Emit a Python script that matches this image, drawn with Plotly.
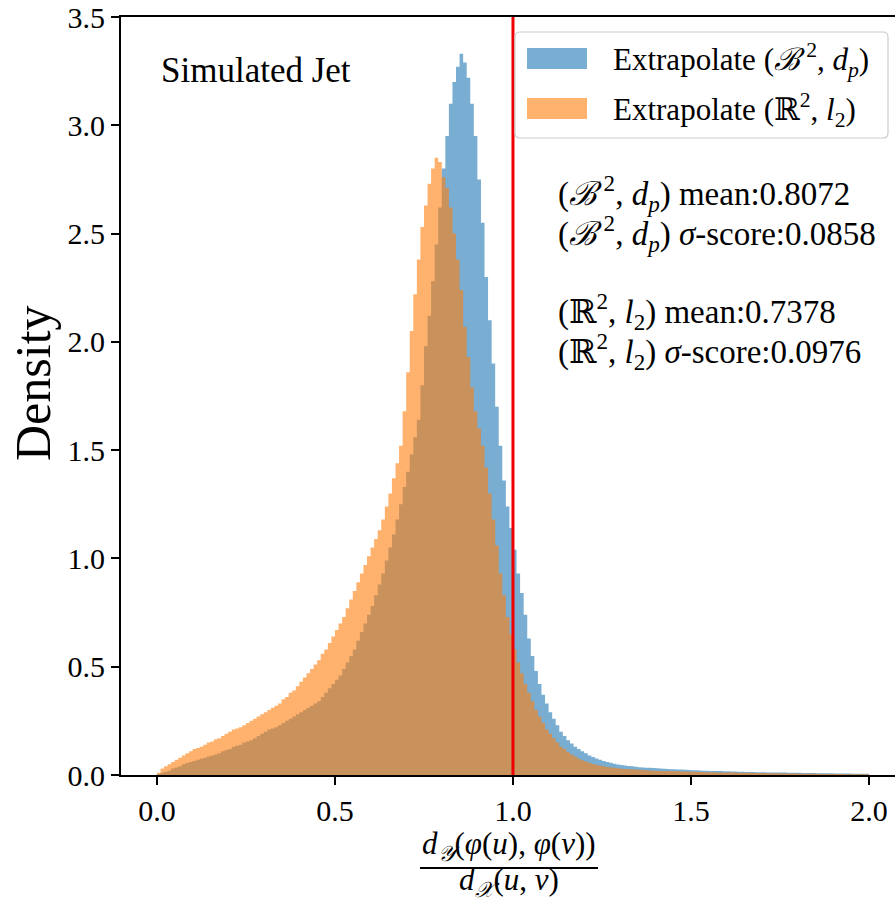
import numpy as np
import plotly.graph_objects as go

# ---------------- data (density per bin, bin width 0.01 on [0, 2]) ----------------
bin_start = 0.0
bin_width = 0.01

density_b2_dp = [
    0.005, 0.01, 0.015, 0.02, 0.03, 0.035, 0.04, 0.05, 0.055, 0.06,
    0.065, 0.07, 0.075, 0.08, 0.085, 0.09, 0.095, 0.10, 0.11, 0.115,
    0.12, 0.13, 0.135, 0.14, 0.15, 0.155, 0.16, 0.17, 0.18, 0.19,
    0.20, 0.21, 0.215, 0.22, 0.23, 0.24, 0.25, 0.26, 0.27, 0.28,
    0.29, 0.30, 0.31, 0.32, 0.33, 0.34, 0.36, 0.38, 0.40, 0.42,
    0.44, 0.46, 0.49, 0.52, 0.55, 0.58, 0.62, 0.66, 0.70, 0.74,
    0.78, 0.83, 0.88, 0.93, 0.99, 1.05, 1.11, 1.18, 1.25, 1.33,
    1.40, 1.48, 1.56, 1.64, 1.80, 1.98, 2.12, 2.28, 2.45, 2.62,
    2.80, 2.95, 3.10, 3.20, 3.27, 3.33, 3.29, 3.22, 3.10, 2.95,
    2.75, 2.55, 2.30, 2.10, 1.90, 1.70, 1.52, 1.36, 1.24, 1.14,
    1.04, 0.93, 0.84, 0.74, 0.63, 0.55, 0.48, 0.42, 0.37, 0.33,
    0.29, 0.26, 0.23, 0.20, 0.18, 0.16, 0.145, 0.13, 0.12, 0.11,
    0.10, 0.09, 0.083, 0.076, 0.070, 0.065, 0.060, 0.056, 0.052, 0.049,
    0.046, 0.044, 0.042, 0.040, 0.038, 0.036, 0.035, 0.034, 0.033, 0.032,
    0.031, 0.030, 0.029, 0.028, 0.027, 0.026, 0.025, 0.025, 0.024, 0.023,
    0.022, 0.022, 0.021, 0.020, 0.020, 0.019, 0.019, 0.018, 0.018, 0.017,
    0.017, 0.016, 0.016, 0.015, 0.015, 0.014, 0.014, 0.014, 0.013, 0.013,
    0.013, 0.012, 0.012, 0.012, 0.011, 0.011, 0.011, 0.010, 0.010, 0.010,
    0.010, 0.009, 0.009, 0.009, 0.009, 0.008, 0.008, 0.008, 0.008, 0.008,
    0.007, 0.007, 0.007, 0.007, 0.007, 0.006, 0.006, 0.006, 0.006, 0.006,
]

density_r2_l2 = [
    0.01, 0.03, 0.04, 0.05, 0.06, 0.07, 0.08, 0.09, 0.10, 0.11,
    0.12, 0.125, 0.13, 0.14, 0.15, 0.155, 0.165, 0.17, 0.18, 0.19,
    0.20, 0.21, 0.215, 0.22, 0.23, 0.24, 0.25, 0.26, 0.27, 0.28,
    0.29, 0.30, 0.31, 0.32, 0.33, 0.35, 0.36, 0.38, 0.39, 0.41,
    0.43, 0.45, 0.47, 0.49, 0.51, 0.53, 0.56, 0.58, 0.61, 0.64,
    0.67, 0.70, 0.73, 0.77, 0.81, 0.85, 0.89, 0.93, 0.97, 1.01,
    1.05, 1.09, 1.13, 1.18, 1.24, 1.30, 1.37, 1.44, 1.52, 1.68,
    1.86, 2.05, 2.22, 2.38, 2.53, 2.63, 2.73, 2.80, 2.85, 2.83,
    2.76, 2.71, 2.62, 2.50, 2.38, 2.24, 2.07, 1.93, 1.79, 1.68,
    1.60, 1.52, 1.42, 1.30, 1.18, 1.06, 0.93, 0.83, 0.73, 0.65,
    0.58, 0.52, 0.47, 0.42, 0.38, 0.34, 0.30, 0.27, 0.24, 0.21,
    0.19, 0.17, 0.15, 0.13, 0.12, 0.105, 0.095, 0.085, 0.075, 0.068,
    0.062, 0.056, 0.051, 0.047, 0.043, 0.040, 0.037, 0.035, 0.033, 0.031,
    0.029, 0.028, 0.027, 0.026, 0.025, 0.024, 0.023, 0.022, 0.021, 0.020,
    0.020, 0.019, 0.019, 0.018, 0.018, 0.017, 0.017, 0.016, 0.016, 0.015,
    0.015, 0.015, 0.014, 0.014, 0.013, 0.013, 0.013, 0.012, 0.012, 0.012,
    0.011, 0.011, 0.011, 0.010, 0.010, 0.010, 0.010, 0.009, 0.009, 0.009,
    0.009, 0.008, 0.008, 0.008, 0.008, 0.007, 0.007, 0.007, 0.007, 0.007,
    0.006, 0.006, 0.006, 0.006, 0.006, 0.006, 0.005, 0.005, 0.005, 0.005,
    0.005, 0.005, 0.005, 0.004, 0.004, 0.004, 0.004, 0.004, 0.004, 0.004,
]

B2 = "<i>ℬ</i>\u2009<sup>2</sup>"
series_names = [f"Extrapolate ({B2}, <i>d<sub>p</sub></i>)",
                "Extrapolate (ℝ<sup>2</sup>, <i>l</i><sub>2</sub>)"]
stats_lines = [
    f"({B2}, <i>d<sub>p</sub></i>) mean:0.8072",
    f"({B2}, <i>d<sub>p</sub></i>) <i>σ</i>-score:0.0858",
    "(ℝ<sup>2</sup>, <i>l</i><sub>2</sub>) mean:0.7378",
    "(ℝ<sup>2</sup>, <i>l</i><sub>2</sub>) <i>σ</i>-score:0.0976",
]
threshold = 1.0
x_ticks = [0.0, 0.5, 1.0, 1.5, 2.0]
y_ticks = [0.0, 0.5, 1.0, 1.5, 2.0, 2.5, 3.0, 3.5]

# ---------------- figure ----------------
FONT = "Liberation Serif, DejaVu Serif, serif"
W, H = 895, 903
ML, MR, MT, MB = 121, 0, 17, 128
PW, PH = W - ML - MR, H - MT - MB

def px(xp):
    return (xp - ML) / PW

def py(yp):
    return (H - MB - yp) / PH

blue_fill = "rgba(31,119,180,0.6)"
orange_fill = "rgba(255,127,14,0.6)"

fig = go.Figure()
for vals, col, nm in [(density_b2_dp, blue_fill, series_names[0]),
                      (density_r2_l2, orange_fill, series_names[1])]:
    n = len(vals)
    edges = bin_start + bin_width * np.arange(n + 1)
    fig.add_trace(go.Scatter(
        x=edges, y=list(vals) + [vals[-1]],
        mode="lines", line=dict(width=0, shape="hv"),
        fill="tozeroy", fillcolor=col, name=nm, showlegend=False,
        hoverinfo="skip",
    ))

shapes = []
# red threshold line
shapes.append(dict(type="line", xref="x", yref="paper", x0=threshold, x1=threshold,
                   y0=0, y1=1, line=dict(color="#ee0000", width=3)))

# legend box (rounded)
lx0, lx1, ly0, ly1 = px(515), px(888), py(138), py(32)
rx, ry = 5 / PW, 5 / PH
path = (f"M {lx0+rx},{ly0} L {lx1-rx},{ly0} Q {lx1},{ly0} {lx1},{ly0+ry} "
        f"L {lx1},{ly1-ry} Q {lx1},{ly1} {lx1-rx},{ly1} L {lx0+rx},{ly1} "
        f"Q {lx0},{ly1} {lx0},{ly1-ry} L {lx0},{ly0+ry} Q {lx0},{ly0} {lx0+rx},{ly0} Z")
shapes.append(dict(type="path", xref="paper", yref="paper", path=path,
                   fillcolor="rgba(255,255,255,0.8)", line=dict(color="#cccccc", width=1.2)))
# legend patches
for (yt, yb), col in [((48, 69), blue_fill), ((98, 119), orange_fill)]:
    shapes.append(dict(type="rect", xref="paper", yref="paper",
                       x0=px(527), x1=px(587), y0=py(yb), y1=py(yt),
                       fillcolor=col, line=dict(width=0)))
# fraction bar of x label
shapes.append(dict(type="line", xref="paper", yref="paper", x0=px(420), x1=px(598),
                   y0=py(868), y1=py(868), line=dict(color="black", width=2)))

annotations = []
for yc, nm in [(60, series_names[0]), (110, series_names[1])]:
    annotations.append(dict(xref="paper", yref="paper", x=px(611), y=py(yc), text=nm,
                            showarrow=False, xanchor="left", yanchor="middle",
                            font=dict(family=FONT, size=31, color="black")))
annotations.append(dict(xref="paper", yref="paper", x=px(159), y=py(70), text="Simulated Jet",
                        showarrow=False, xanchor="left", yanchor="middle",
                        font=dict(family=FONT, size=35, color="black")))
for yc, t in zip([193, 233, 311, 352], stats_lines):
    annotations.append(dict(xref="paper", yref="paper", x=px(556), y=py(yc), text=t,
                            showarrow=False, xanchor="left", yanchor="middle",
                            font=dict(family=FONT, size=33, color="black")))
# y label
annotations.append(dict(xref="paper", yref="paper", x=px(33), y=py(383), text="Density",
                        showarrow=False, textangle=-90, xanchor="center", yanchor="middle",
                        font=dict(family=FONT, size=50, color="black")))
# x label (fraction)
annotations.append(dict(xref="paper", yref="paper", x=px(509), y=py(846),
                        text="<i>d</i><sub><i>𝒴</i></sub>(<i>φ</i>(<i>u</i>), <i>φ</i>(<i>v</i>))",
                        showarrow=False, xanchor="center", yanchor="middle",
                        font=dict(family=FONT, size=31, color="black")))
annotations.append(dict(xref="paper", yref="paper", x=px(509), y=py(882),
                        text="<i>d</i><sub><i>𝒳</i></sub>(<i>u</i>, <i>v</i>)",
                        showarrow=False, xanchor="center", yanchor="middle",
                        font=dict(family=FONT, size=31, color="black")))

fig.update_layout(
    width=W, height=H,
    margin=dict(l=ML, r=MR, t=MT, b=MB, pad=0),
    paper_bgcolor="white", plot_bgcolor="white",
    shapes=shapes, annotations=annotations,
    showlegend=False,
    font=dict(family=FONT, size=30, color="black"),
)
fig.update_xaxes(range=[-0.101, 2.073], tickvals=x_ticks, ticktext=[f"{v:.1f}" for v in x_ticks],
                 ticks="outside", ticklen=8, tickwidth=1.5, tickcolor="black",
                 showline=True, linecolor="black", linewidth=1.8, mirror=True,
                 showgrid=False, zeroline=False, tickfont=dict(family=FONT, size=30))
fig.update_yaxes(range=[0, 3.5], tickvals=y_ticks, ticktext=[f"{v:.1f}" for v in y_ticks],
                 ticks="outside", ticklen=8, tickwidth=1.5, tickcolor="black",
                 showline=True, linecolor="black", linewidth=1.8, mirror=False,
                 showgrid=False, zeroline=False, tickfont=dict(family=FONT, size=30))

fig.write_html("out.html")
